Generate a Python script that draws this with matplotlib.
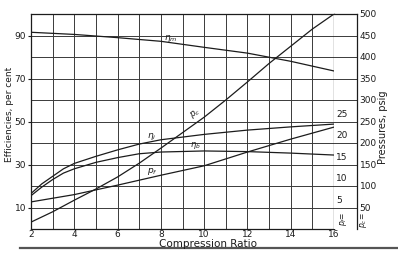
import matplotlib
matplotlib.use("Agg")
import matplotlib.pyplot as plt
from matplotlib.lines import Line2D
import matplotlib.transforms as mtransforms

# Values
ratio_even = [2, 4, 6, 8, 10, 12, 14, 16]
ratio_all = [2, 3, 4, 5, 6, 7, 8, 9, 10, 11, 12, 13, 14, 15, 16]
ratio_eff = [2, 2.5, 3, 3.5, 4, 5, 6, 7, 8, 10, 12, 14, 16]

eta_m = [91.5, 90.5, 89, 87.3, 84.5, 81.8, 78, 73.5]  # per cent
eta_i = [16.5, 21, 24.5, 28, 30.5, 33.8, 36.8, 39.5, 41.5, 44, 46, 47.5, 48.8]
eta_b = [15.5, 19.5, 23, 26, 28, 31, 33.2, 35, 35.8, 36.3, 36, 35.3, 34.4]
p_c = [16, 40, 67, 93, 121, 153, 188, 224, 260, 300, 342, 385, 425, 465, 500]  # psig
p_f = [6.3, 8.0, 10.2, 12.5, 14.7, 17.9, 20.9, 23.7]  # psi, inner scale

eff_ticks = [10, 30, 50, 70, 90]
psig_ticks = [50, 100, 150, 200, 250, 300, 350, 400, 450, 500]
pf_ticks = [5, 10, 15, 20, 25]
x_ticks = [2, 4, 6, 8, 10, 12, 14, 16]

ink = "#1c1c1c"
grid_c = "#3a3a3a"
fs = 6.5

fig = plt.figure(figsize=(3.98, 2.60), dpi=100)
fig.patch.set_facecolor("white")

W, H = 398, 260
left, right, top, bottom = 31, 334, 14, 229
outer = 357

ax = fig.add_axes([left / W, 1 - bottom / H, (right - left) / W, (bottom - top) / H])
ax.set_xlim(2, 16)
ax.set_ylim(0, 100)
ax.set_xticks(x_ticks)
ax.set_xticks(range(3, 16, 2), minor=True)
ax.set_yticks(eff_ticks)
ax.set_yticks(range(0, 101, 20), minor=True)
ax.grid(True, which="both", color=grid_c, lw=0.7)
ax.set_axisbelow(True)
ax.tick_params(axis="x", which="both", length=0, pad=1, labelsize=fs, colors=ink)
ax.tick_params(axis="y", which="major", length=2, pad=1.5, labelsize=fs, colors=ink)
ax.tick_params(axis="y", which="minor", length=0)
for s in ax.spines.values():
    s.set_color(ink)
    s.set_linewidth(0.9)

# efficiencies on left scale
ax.plot(ratio_even, eta_m, color=ink, lw=0.9)
ax.plot(ratio_eff, eta_i, color=ink, lw=0.9)
ax.plot(ratio_eff, eta_b, color=ink, lw=0.9)

# compression pressure on psig scale
axp = ax.twinx()
axp.set_ylim(0, 500)
axp.axis("off")
axp.plot(ratio_all, p_c, color=ink, lw=0.9)

# friction pressure on inner 0-50 scale
axf = ax.twinx()
axf.set_ylim(0, 50)
axf.axis("off")
axf.plot(ratio_even, p_f, color=ink, lw=0.9)

# curve labels
ax.text(8.45, 88.6, r"$\eta_m$", fontsize=6.5, ha="center", va="center", color=ink)
ax.text(7.6, 42.8, r"$\eta_i$", fontsize=6.5, ha="center", va="center", color=ink)
ax.text(9.6, 38.8, r"$\eta_b$", fontsize=6, ha="center", va="center", color=ink)
ax.text(7.6, 26.8, r"$p_f$", fontsize=6.5, ha="center", va="center", color=ink)
ax.text(9.6, 53.8, r"$p_c$", fontsize=6.5, ha="center", va="center", color=ink, rotation=35)

# right-hand strip with the two pressure scales
strip = fig.add_axes([right / W, 1 - bottom / H, (outer - right) / W, (bottom - top) / H])
strip.set_ylim(0, 50)
strip.set_xlim(0, 1)
strip.set_xticks([])
strip.set_yticks([])
for v in range(5, 51, 5):
    strip.axhline(v, color=grid_c, lw=0.7)
strip.spines["left"].set_visible(False)
strip.spines["bottom"].set_visible(False)
for s in ("top", "right"):
    strip.spines[s].set_color(ink)
    strip.spines[s].set_linewidth(0.9)
trans = mtransforms.blended_transform_factory(strip.transAxes, strip.transData)
for v in pf_ticks:
    strip.text(0.1, v + 0.6, str(v), transform=trans, fontsize=fs, ha="left", va="bottom", color=ink)
strip.text(0.4, 2.3, r"$p_f$=", transform=trans, fontsize=5.5, rotation=90,
           ha="center", va="center", color=ink)

strip_r = strip.twinx()
strip_r.set_ylim(0, 500)
strip_r.set_yticks(psig_ticks)
strip_r.tick_params(axis="y", length=0, pad=2, labelsize=fs, colors=ink)
for s in strip_r.spines.values():
    s.set_visible(False)
strip_r.text(1.3, 20, r"$p_c$=", transform=mtransforms.blended_transform_factory(strip.transAxes, strip_r.transData),
             fontsize=5.5, rotation=90, ha="center", va="center", color=ink)

# axis titles
fig.text(0.522, 0.062, "Compression Ratio", fontsize=7.5, ha="center", va="center", color=ink)
fig.text(0.024, 0.56, "Efficiencies, per cent", fontsize=6.5, rotation=90,
         ha="center", va="center", color=ink)
fig.text(0.963, 0.51, "Pressures, psig", fontsize=7, rotation=90,
         ha="center", va="center", color=ink)

# scan edge rule under the title
fig.add_artist(Line2D([0.05, 1.0], [0.045, 0.045], color="#555555", lw=1.6))

fig.savefig("out.png", dpi=100, facecolor="white")
